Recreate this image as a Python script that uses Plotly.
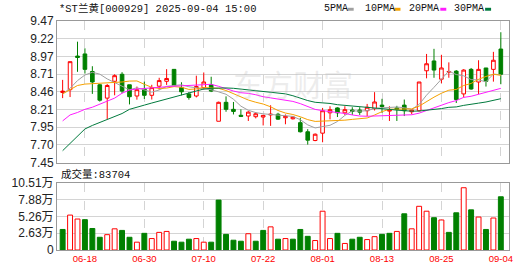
import plotly.graph_objects as go
import numpy as np

# ---------------- data ----------------
dates = ["06-13", "06-16", "06-17", "06-18", "06-19", "06-20", "06-23", "06-24", "06-25", "06-26",
         "06-27", "06-30", "07-01", "07-02", "07-03", "07-04", "07-07", "07-08", "07-09", "07-10",
         "07-11", "07-14", "07-15", "07-16", "07-17", "07-18", "07-21", "07-22", "07-23", "07-24",
         "07-25", "07-28", "07-29", "07-30", "07-31", "08-01", "08-04", "08-05", "08-06", "08-07",
         "08-08", "08-11", "08-12", "08-13", "08-14", "08-15", "08-18", "08-19", "08-20", "08-21",
         "08-22", "08-25", "08-26", "08-27", "08-28", "08-29", "09-01", "09-02", "09-03", "09-04"]

opens = [8.45, 8.49, 8.97, 9.00, 8.75, 8.56, 8.37, 8.61, 8.71, 8.56,
         8.40, 8.50, 8.41, 8.54, 8.61, 8.78, 8.52, 8.43, 8.40, 8.52,
         8.56, 8.04, 8.31, 8.21, 8.125, 8.115, 8.105, 8.10, 8.13, 8.14,
         8.09, 8.075, 8.02, 7.89, 7.765, 7.87, 8.16, 8.23, 8.16, 8.20,
         8.20, 8.19, 8.22, 8.27, 8.185, 8.23, 8.27, 8.175, 8.19, 8.76,
         8.90, 8.64, 8.74, 8.755, 8.43, 8.78, 8.60, 8.80, 8.78, 9.07]
highs = [8.63, 8.89, 9.175, 9.08, 8.825, 8.57, 8.57, 8.71, 8.74, 8.56,
         8.535, 8.605, 8.56, 8.66, 8.783, 8.78, 8.596, 8.456, 8.69, 8.736,
         8.675, 8.32, 8.395, 8.315, 8.21, 8.184, 8.17, 8.124, 8.268, 8.16,
         8.137, 8.11, 8.09, 7.927, 7.866, 8.23, 8.254, 8.24, 8.254, 8.24,
         8.24, 8.287, 8.455, 8.36, 8.254, 8.26, 8.35, 8.21, 8.60, 9.00,
         9.073, 8.988, 8.88, 8.77, 8.783, 8.80, 8.91, 8.80, 9.03, 9.31]
lows = [8.37, 8.385, 8.745, 8.72, 8.43, 8.32, 8.07, 8.41, 8.44, 8.28,
        8.348, 8.357, 8.35, 8.49, 8.558, 8.54, 8.41, 8.348, 8.38, 8.49,
        8.456, 8.04, 8.175, 8.137, 8.10, 8.044, 8.081, 7.98, 7.974, 8.06,
        7.997, 8.065, 7.88, 7.707, 7.755, 7.74, 8.067, 8.10, 8.13, 8.13,
        8.13, 8.114, 8.193, 8.16, 8.044, 8.044, 8.114, 8.14, 8.18, 8.652,
        8.66, 8.582, 8.66, 8.30, 8.38, 8.49, 8.428, 8.535, 8.605, 8.568]
closes = [8.47, 8.89, 8.95, 8.78, 8.60, 8.34, 8.55, 8.69, 8.47, 8.39,
          8.49, 8.41, 8.52, 8.62, 8.65, 8.55, 8.46, 8.38, 8.535, 8.60,
          8.47, 8.31, 8.21, 8.18, 8.11, 8.17, 8.147, 8.124, 8.14, 8.07,
          8.11, 8.10, 7.89, 7.77, 7.855, 8.19, 8.205, 8.16, 8.205, 8.18,
          8.17, 8.24, 8.315, 8.25, 8.20, 8.21, 8.19, 8.20, 8.60, 8.86,
          8.77, 8.80, 8.75, 8.35, 8.77, 8.50, 8.78, 8.61, 8.91, 8.71]
volumes = [32300, 54900, 48700, 47700, 33800, 20000, 24100, 33300, 30800, 20000,
           12300, 26200, 18000, 27700, 29200, 13800, 12300, 17000, 18000, 12300,
           12300, 78500, 24600, 15400, 13800, 25600, 13800, 30800, 36400, 17000,
           18000, 17000, 32300, 21500, 14900, 61000, 18000, 26200, 10300, 17000,
           20000, 16400, 21000, 24600, 26200, 29200, 56900, 33300, 68700, 61000,
           50800, 47200, 27700, 58500, 97900, 63100, 51800, 32300, 50300, 83704]
prev_close = 8.50  # close of the day before the first bar

# moving-average values for days whose window starts before the first bar
ma5_head = [8.43, 8.51, 8.62, 8.70]
ma10_head = [8.43, 8.49, 8.55, 8.57, 8.575, 8.575, 8.58, 8.59, 8.60]
ma20_head = [8.045, 8.13, 8.165, 8.21, 8.24, 8.28, 8.325, 8.37, 8.44, 8.485,
             8.50, 8.51, 8.52, 8.53, 8.535, 8.54, 8.545, 8.55, 8.555]
ma30_head = [7.62, 7.72, 7.83, 7.93, 7.98, 8.02, 8.06, 8.11, 8.15, 8.21,
             8.235, 8.27, 8.30, 8.33, 8.36, 8.39, 8.42, 8.45, 8.48, 8.50,
             8.51, 8.515, 8.515, 8.51, 8.50, 8.49, 8.48, 8.47, 8.455]

price_tick_text = ["7.45", "7.70", "7.95", "8.21", "8.46", "8.71", "8.97", "9.22", "9.47"]
price_min, price_max = 7.45, 9.47
vol_tick_text = ["0", "2.63万", "5.26万", "7.88万", "10.51万"]
vol_max = 105100
label_dates = ["06-18", "06-30", "07-10", "07-22", "08-01", "08-13", "08-25", "09-04"]
title_text = "*ST兰黄[000929] 2025-09-04 15:00"
vol_title = "成交量:83704"
ma_names = ["5PMA", "10PMA", "20PMA", "30PMA"]
ma_colors = ["#A0A0A0", "#F5A100", "#FF1CFF", "#007A3D"]

# ---------------- derived ----------------
idx = list(range(len(dates)))


def moving_avg(vals, n, head):
    out = list(head)
    for i in range(n - 1, len(vals)):
        out.append(float(np.mean(vals[i - n + 1:i + 1])))
    return out


mas = [moving_avg(closes, 5, ma5_head), moving_avg(closes, 10, ma10_head),
       moving_avg(closes, 20, ma20_head), moving_avg(closes, 30, ma30_head)]

RED = "#FF0000"
GREEN = "#008000"
prevs = [prev_close] + closes[:-1]
vol_up = [c >= p for c, p in zip(closes, prevs)]
vol_fill = ["#FFFFFF" if u else GREEN for u in vol_up]
vol_line = [RED if u else GREEN for u in vol_up]

fig = go.Figure()
fig.add_trace(go.Candlestick(
    x=idx, open=opens, high=highs, low=lows, close=closes,
    increasing=dict(line=dict(color=RED, width=1), fillcolor="#FFFFFF"),
    decreasing=dict(line=dict(color=GREEN, width=1), fillcolor=GREEN),
    whiskerwidth=0, xaxis="x", yaxis="y", showlegend=False, hoverinfo="skip"))
for m, c in zip(mas, ma_colors):
    fig.add_trace(go.Scatter(x=idx, y=m, mode="lines", line=dict(color=c, width=1),
                             xaxis="x", yaxis="y", showlegend=False, hoverinfo="skip"))
fig.add_trace(go.Bar(x=idx, y=volumes, width=0.66,
                     marker=dict(color=vol_fill, line=dict(color=vol_line, width=1)),
                     xaxis="x2", yaxis="y2", showlegend=False, hoverinfo="skip"))

# geometry (pixels) -> paper
W, H = 530, 276
ML, MR, MT, MB = 55, 21, 21, 21
PW, PH = W - ML - MR, H - MT - MB


def px(xp):
    return (xp - ML) / PW


def py(yp):
    return (H - MB - yp) / PH


tickvals_x = [dates.index(d) for d in label_dates]
grid_col = "#D4D4D4"
frame_col = "#999999"
axis_font = dict(family="Liberation Sans, Noto Sans CJK SC", size=12, color="#222222")

common_x = dict(range=[-0.76, 60.1], tickvals=tickvals_x, ticktext=label_dates,
                showgrid=True, gridcolor=grid_col, griddash="dash", gridwidth=1,
                showline=True, mirror=True, linecolor=frame_col, linewidth=1,
                zeroline=False, ticks="", rangeslider=dict(visible=False), fixedrange=True)

fig.update_layout(
    width=W, height=H,
    margin=dict(l=ML, r=MR, t=MT, b=MB, pad=0),
    paper_bgcolor="#FFFFFF", plot_bgcolor="#FFFFFF",
    showlegend=False,
    xaxis=dict(common_x, anchor="y", showticklabels=False),
    xaxis2=dict(common_x, anchor="y2", matches="x", showticklabels=True,
                tickfont=dict(family="Liberation Sans", size=9.5, color=RED)),
    yaxis=dict(domain=[py(165.7), 1.0], range=[price_min, price_max],
               tickvals=list(np.linspace(price_min, price_max, len(price_tick_text))),
               ticktext=price_tick_text, tickfont=axis_font,
               showgrid=True, gridcolor=grid_col, gridwidth=1, zeroline=False,
               showline=True, mirror=True, linecolor=frame_col, linewidth=1, ticks="",
               fixedrange=True),
    yaxis2=dict(domain=[0.0, py(186.7)], range=[0, vol_max],
                tickvals=list(np.linspace(0, vol_max, len(vol_tick_text))),
                ticktext=vol_tick_text, tickfont=axis_font,
                showgrid=True, gridcolor=grid_col, gridwidth=1, zeroline=False,
                showline=True, mirror=True, linecolor=frame_col, linewidth=1, ticks="",
                fixedrange=True),
    bargap=0.3,
)

mono = "Liberation Mono, Noto Sans CJK SC"
annotations = [
    dict(text=title_text, x=px(55), y=py(8.5), xref="paper", yref="paper",
         xanchor="left", yanchor="middle", showarrow=False,
         font=dict(family=mono, size=10.5, color="#111111")),
    dict(text=vol_title, x=px(57), y=py(177.5), xref="paper", yref="paper",
         xanchor="left", yanchor="middle", showarrow=False,
         font=dict(family=mono, size=10.5, color="#111111")),
    dict(text="东方财富", x=px(292), y=py(84), xref="paper", yref="paper",
         xanchor="center", yanchor="middle", showarrow=False,
         font=dict(family="Noto Sans CJK SC", size=30, color="rgba(190,190,190,0.28)")),
]
legend_text_x = [321, 362, 407, 452]
legend_box_x = [347, 394, 440, 485]
shapes = []
for name, c, tx, bx in zip(ma_names, ma_colors, legend_text_x, legend_box_x):
    annotations.append(dict(text=name, x=px(tx), y=py(8.5), xref="paper", yref="paper",
                            xanchor="left", yanchor="middle", showarrow=False,
                            font=dict(family=mono, size=10, color="#111111")))
    shapes.append(dict(type="rect", xref="paper", yref="paper",
                       x0=px(bx), x1=px(bx + 6), y0=py(10.5), y1=py(7.5),
                       fillcolor=c, line=dict(width=0)))
fig.update_layout(annotations=annotations, shapes=shapes)

fig.write_html("out.html")
